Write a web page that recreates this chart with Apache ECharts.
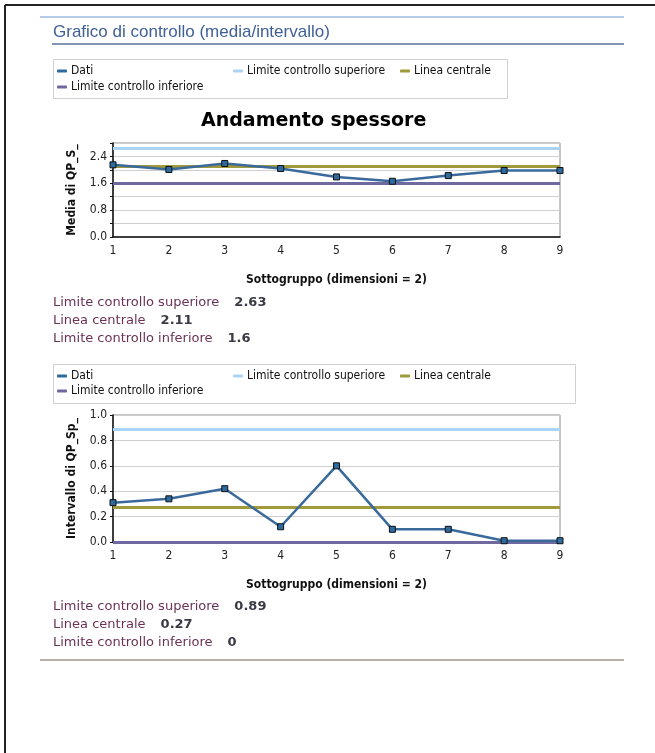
<!DOCTYPE html>
<html>
<head>
<meta charset="utf-8">
<script src="https://cdn.jsdelivr.net/npm/echarts@6/dist/echarts.min.js"></script>
<style>
  html, body { margin: 0; padding: 0; background: #fff; }
  #chart { width: 655px; height: 753px; }
</style>
</head>
<body>
<div id="chart"></div>
<script>
// ---- data ----
const categories = ['1', '2', '3', '4', '5', '6', '7', '8', '9'];
const meanData = [2.15, 2.01, 2.19, 2.04, 1.79, 1.66, 1.83, 1.98, 1.98];
const rangeData = [0.31, 0.34, 0.42, 0.12, 0.60, 0.10, 0.10, 0.01, 0.01];
const limitNames = ['Limite controllo superiore', 'Linea centrale', 'Limite controllo inferiore'];
const meanLimits = [2.63, 2.11, 1.6];
const rangeLimits = [0.89, 0.27, 0];
const meanLimitLabels = ['2.63', '2.11', '1.6'];
const rangeLimitLabels = ['0.89', '0.27', '0'];
const pageTitle = 'Grafico di controllo (media/intervallo)';
const chartTitle = 'Andamento spessore';
const xAxisName = 'Sottogruppo (dimensioni = 2)';
const yAxisNames = ['Media di QP_S_', 'Intervallo di QP_Sp_'];

// ---- styles ----
const COND = '"DejaVu Sans Condensed", "DejaVu Sans", sans-serif';
const dataColor = '#3a6a9c';
const limitColors = ['#a9d4f5', '#a09a3a', '#6e6aa0'];

const chart = echarts.init(document.getElementById('chart'), null, { renderer: 'canvas' });

function legendItem(name, left, top) {
  return {
    data: [name], left: left, top: top, orient: 'horizontal',
    icon: 'roundRect', itemWidth: 10, itemHeight: 3, itemGap: 4,
    padding: 0, selectedMode: false,
    itemStyle: { borderWidth: 0 },
    textStyle: { fontFamily: COND, fontSize: 12, color: '#111', padding: [0, 0, 0, -1] }
  };
}

function yAxis(gridIndex, max, interval, labelEvery, name) {
  return {
    type: 'value', gridIndex: gridIndex, min: 0, max: max, interval: interval,
    name: name, nameLocation: 'middle', nameGap: 35,
    nameTextStyle: { fontFamily: COND, fontSize: 12, fontWeight: 'bold', color: '#111' },
    axisLine: { show: true, lineStyle: { color: '#111', width: 1.5 } },
    axisTick: { show: true, length: 3, lineStyle: { color: '#111' } },
    axisLabel: {
      margin: 6, fontFamily: COND, fontSize: 12, color: '#222',
      formatter: function (v) {
        const k = Math.round(v / interval);
        return (k % labelEvery === 0) ? v.toFixed(1) : '';
      }
    },
    splitLine: { show: true, lineStyle: { color: '#cfcfcf', width: 1 } }
  };
}

function xAxis(gridIndex) {
  return {
    type: 'category', gridIndex: gridIndex, data: categories, boundaryGap: false,
    name: xAxisName, nameLocation: 'middle', nameGap: 37,
    nameTextStyle: { fontFamily: COND, fontSize: 12, fontWeight: 'bold', color: '#111' },
    axisLine: { show: true, lineStyle: { color: '#111', width: 1.5 } },
    axisTick: { show: false },
    axisLabel: { margin: 8, fontFamily: COND, fontSize: 12, color: '#222' },
    splitLine: { show: false }
  };
}

function limitSeries(idx, gridIndex, value) {
  return {
    name: limitNames[idx], type: 'line', xAxisIndex: gridIndex, yAxisIndex: gridIndex,
    data: [], color: limitColors[idx], z: 2,
    itemStyle: { color: limitColors[idx] },
    lineStyle: { color: limitColors[idx], width: 3 },
    markLine: {
      silent: true, symbol: ['none', 'none'], label: { show: false },
      lineStyle: { color: limitColors[idx], width: 3, type: 'solid' },
      data: [{ yAxis: value }]
    }
  };
}

function dataSeries(gridIndex, values) {
  return {
    name: 'Dati', type: 'line', xAxisIndex: gridIndex, yAxisIndex: gridIndex,
    data: values, z: 5, color: dataColor,
    symbol: 'rect', symbolSize: 6, showSymbol: true,
    lineStyle: { color: dataColor, width: 2.5 },
    itemStyle: { color: '#2d6a9e', borderColor: '#111', borderWidth: 1 }
  };
}

function statsText(top, names, labels) {
  return names.map(function (n, i) {
    return {
      type: 'text', left: 53, top: top + i * 18,
      style: {
        text: '{l|' + n + '}{v|' + labels[i] + '}',
        rich: {
          l: { fontFamily: '"DejaVu Sans", sans-serif', fontSize: 13, fill: '#6a3355' },
          v: { fontFamily: '"DejaVu Sans", sans-serif', fontSize: 13, fontWeight: 'bold', fill: '#3a3a44', padding: [0, 0, 0, 15] }
        }
      }
    };
  });
}

const option = {
  animation: false,
  backgroundColor: '#fff',
  grid: [
    { left: 113, top: 143, width: 447, height: 94, show: true, borderColor: '#8a8a8a', borderWidth: 1, backgroundColor: 'transparent' },
    { left: 113, top: 415, width: 447, height: 127, show: true, borderColor: '#8a8a8a', borderWidth: 1, backgroundColor: 'transparent' }
  ],
  legend: [
    legendItem('Dati', 57, 65),
    legendItem(limitNames[0], 233, 65),
    legendItem(limitNames[1], 400, 65),
    legendItem(limitNames[2], 57, 81),
    legendItem('Dati', 57, 370),
    legendItem(limitNames[0], 233, 370),
    legendItem(limitNames[1], 400, 370),
    legendItem(limitNames[2], 57, 385)
  ],
  xAxis: [xAxis(0), xAxis(1)],
  yAxis: [yAxis(0, 2.8, 0.4, 2, yAxisNames[0]), yAxis(1, 1.0, 0.2, 1, yAxisNames[1])],
  series: [
    limitSeries(0, 0, meanLimits[0]),
    limitSeries(1, 0, meanLimits[1]),
    limitSeries(2, 0, meanLimits[2]),
    dataSeries(0, meanData),
    limitSeries(0, 1, rangeLimits[0]),
    limitSeries(1, 1, rangeLimits[1]),
    limitSeries(2, 1, rangeLimits[2]),
    dataSeries(1, rangeData)
  ],
  graphic: [
    // page frame (top and left)
    { type: 'line', shape: { x1: 5, y1: 5, x2: 655, y2: 5 }, style: { stroke: '#222', lineWidth: 2 } },
    { type: 'line', shape: { x1: 5, y1: 5, x2: 5, y2: 753 }, style: { stroke: '#222', lineWidth: 2 } },
    // top rule
    { type: 'rect', shape: { x: 40, y: 16, width: 584, height: 2 }, style: { fill: '#b3cde8' } },
    // page title
    { type: 'text', left: 53, top: 24, style: { text: pageTitle, fontFamily: '"Liberation Sans", Arial, sans-serif', fontSize: 17, fill: '#3f6096' } },
    { type: 'rect', shape: { x: 52, y: 43, width: 572, height: 2 }, style: { fill: '#8496b6' } },
    // legend boxes
    { type: 'rect', shape: { x: 53.5, y: 59.5, width: 454, height: 39 }, style: { fill: 'none', stroke: '#d0d0d0', lineWidth: 1 } },
    { type: 'rect', shape: { x: 53.5, y: 364.5, width: 522, height: 39 }, style: { fill: 'none', stroke: '#d0d0d0', lineWidth: 1 } },
    // chart title
    { type: 'text', left: 201, top: 112, style: { text: chartTitle, fontFamily: '"DejaVu Sans", sans-serif', fontSize: 19, fontWeight: 'bold', fill: '#000' } },
    // bottom rule
    { type: 'rect', shape: { x: 40, y: 659, width: 584, height: 2 }, style: { fill: '#b8b0a4' } }
  ].concat(statsText(296, limitNames, meanLimitLabels)).concat(statsText(600, limitNames, rangeLimitLabels))
};

chart.setOption(option);
</script>
</body>
</html>
